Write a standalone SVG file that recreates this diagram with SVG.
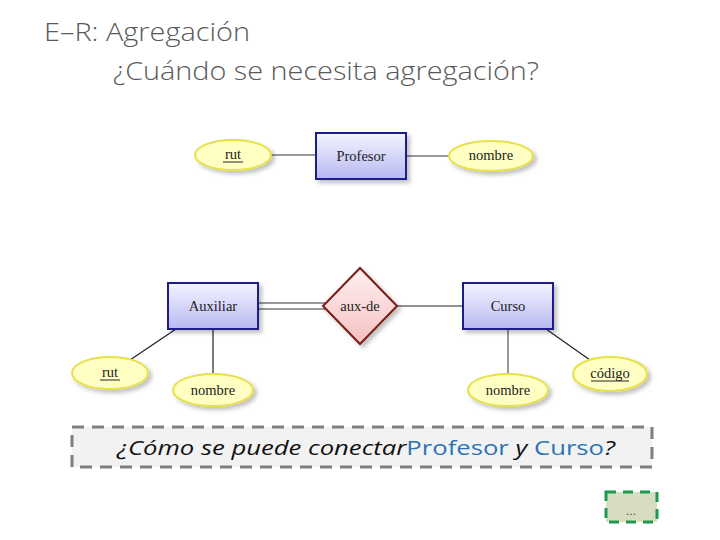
<svg xmlns="http://www.w3.org/2000/svg" width="720" height="540" viewBox="0 0 720 540">
<style>
.title{font-family:"Open Sans","Liberation Sans",sans-serif;font-weight:300;fill:#595959}
.lbl{font-family:"Liberation Serif","DejaVu Serif",serif;font-size:14.5px;fill:#222;text-anchor:middle}
.ent{fill:url(#entG);stroke:#1c1c8a;stroke-width:2}
.att{fill:#ffffc4;stroke:#e6e04a;stroke-width:2}
.rel{fill:url(#relG);stroke:#7a1a1a;stroke-width:2}
.ln{stroke:#777;stroke-width:1.5;fill:none}
.lk{stroke:#222;stroke-width:1.2;fill:none}
.q{font-family:"Open Sans","Liberation Sans",sans-serif;font-size:20px}
</style>
<defs>
<linearGradient id="entG" x1="0" y1="0" x2="0" y2="1"><stop offset="0" stop-color="#f4f4ff"/><stop offset="1" stop-color="#b8b8f2"/></linearGradient>
<linearGradient id="relG" x1="0" y1="0" x2="0" y2="1"><stop offset="0" stop-color="#fff0f0"/><stop offset="1" stop-color="#f6c0c0"/></linearGradient>
<filter id="sh" x="-20%" y="-20%" width="150%" height="160%"><feDropShadow dx="3" dy="3" stdDeviation="2" flood-color="#000" flood-opacity="0.25"/></filter>
</defs>
<text class="title" x="44" y="41" font-size="26" textLength="206" lengthAdjust="spacingAndGlyphs">E–R: Agregación</text>
<text class="title" x="113" y="80" font-size="26" textLength="426" lengthAdjust="spacingAndGlyphs">¿Cuándo se necesita agregación?</text>
<g id="connectors">
<line class="ln" x1="271" y1="155" x2="316" y2="155"/>
<line class="ln" x1="406" y1="156" x2="449" y2="156"/>
<line class="ln" x1="258" y1="303" x2="325" y2="303"/>
<line class="ln" x1="258" y1="309" x2="325" y2="309"/>
<line class="lk" x1="397" y1="306" x2="463" y2="306"/>
<line class="lk" x1="176" y1="329" x2="130" y2="360"/>
<line class="lk" x1="213" y1="329" x2="213" y2="374"/>
<line class="ln" x1="508" y1="329" x2="508" y2="374"/>
<line class="lk" x1="546" y1="329" x2="590" y2="360"/>
</g>
<g id="profesor"><rect class="ent" filter="url(#sh)" x="316" y="133" width="90" height="46"/><text class="lbl" x="361" y="161">Profesor</text></g>
<g id="rut1"><ellipse class="att" filter="url(#sh)" cx="233" cy="155" rx="38" ry="15"/><text class="lbl" x="233" y="159">rut</text><line x1="223" y1="162" x2="243" y2="162" stroke="#222" stroke-width="1"/></g>
<g id="nombre1"><ellipse class="att" filter="url(#sh)" cx="491" cy="156" rx="42" ry="15"/><text class="lbl" x="491" y="160">nombre</text></g>
<g id="auxiliar"><rect class="ent" filter="url(#sh)" x="168" y="283" width="90" height="46"/><text class="lbl" x="213" y="311">Auxiliar</text></g>
<g id="auxde"><polygon class="rel" filter="url(#sh)" points="360,268 397,306 360,344 323,306"/><text class="lbl" x="360" y="311">aux-de</text></g>
<g id="curso"><rect class="ent" filter="url(#sh)" x="463" y="283" width="90" height="46"/><text class="lbl" x="508" y="311">Curso</text></g>
<g id="rut2"><ellipse class="att" filter="url(#sh)" cx="110" cy="373" rx="38" ry="16"/><text class="lbl" x="110" y="377">rut</text><line x1="100" y1="380" x2="120" y2="380" stroke="#222" stroke-width="1"/></g>
<g id="nombre2"><ellipse class="att" filter="url(#sh)" cx="213" cy="390" rx="40" ry="16"/><text class="lbl" x="213" y="395">nombre</text></g>
<g id="nombre3"><ellipse class="att" filter="url(#sh)" cx="508" cy="390" rx="40" ry="16"/><text class="lbl" x="508" y="395">nombre</text></g>
<g id="codigo"><ellipse class="att" filter="url(#sh)" cx="610" cy="374" rx="37" ry="17"/><text class="lbl" x="610" y="378">código</text><line x1="591" y1="381" x2="629" y2="381" stroke="#222" stroke-width="1"/></g>
<g id="question">
<rect x="72" y="427" width="580" height="40" fill="#f2f2f2" stroke="#7f7f7f" stroke-width="3" stroke-dasharray="12,8"/>
<text class="q" x="117" y="455" textLength="498" lengthAdjust="spacingAndGlyphs"><tspan font-style="italic" fill="#111">¿Cómo se puede conectar</tspan><tspan fill="#2d73b4">Profesor </tspan><tspan font-style="italic" fill="#111">y </tspan><tspan fill="#2d73b4">Curso</tspan><tspan font-style="italic" fill="#111">?</tspan></text>
</g>
<g id="more">
<rect x="606" y="492" width="51" height="30" fill="#d8dcc0" stroke="#1e9a50" stroke-width="3" stroke-dasharray="10,7"/>
<text x="631" y="515" font-family="Liberation Sans,sans-serif" font-size="11" fill="#333" text-anchor="middle">…</text>
</g>
</svg>
